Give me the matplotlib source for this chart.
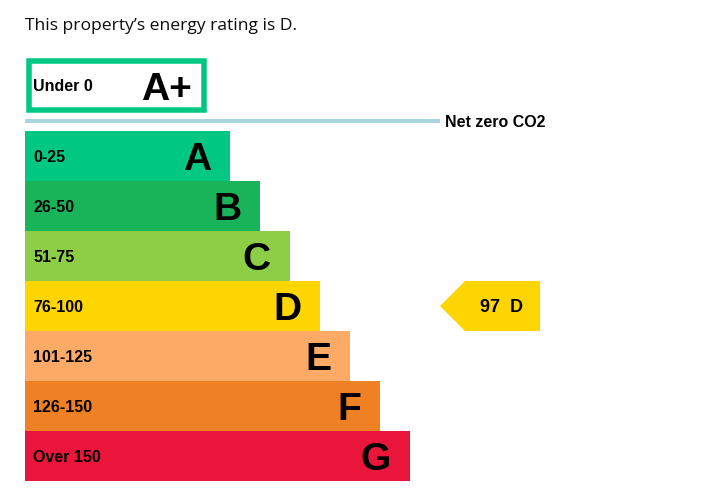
import matplotlib
matplotlib.use("Agg")
import matplotlib.pyplot as plt
from matplotlib.patches import Rectangle, Polygon

# ---- data ----
title = "This property\u2019s energy rating is D."
bands = ["A", "B", "C", "D", "E", "F", "G"]
ranges = ["0-25", "26-50", "51-75", "76-100", "101-125", "126-150", "Over 150"]
colors = ["#00c781", "#19b459", "#8dce46", "#ffd500", "#fcaa65", "#ef8023", "#e9153b"]
top_band = "A+"
top_range = "Under 0"
net_zero_label = "Net zero CO2"
current_score = 97
current_band = "D"

# ---- layout (pixels) ----
W, H = 712, 500
DPI = 100
def pt(px):
    return px * 72.0 / DPI

fig = plt.figure(figsize=(W / DPI, H / DPI), dpi=DPI)
ax = fig.add_axes([0, 0, 1, 1])
ax.set_xlim(0, W)
ax.set_ylim(H, 0)
ax.axis("off")

FONT = ["Liberation Sans", "DejaVu Sans"]

# title
ax.text(25, 30, title, fontsize=pt(17.5), color="#0b0c0c",
        family=["Open Sans", "DejaVu Sans"], ha="left", va="baseline")

# A+ box
bw = 5.5
ax.add_patch(Rectangle((26 + bw / 2, 58 + bw / 2), 181 - bw, 55 - bw,
                       facecolor="white", edgecolor="#00c781",
                       linewidth=pt(bw)))
ax.text(33, 85.5 + 5.7, top_range, fontsize=pt(16), fontweight="bold",
        family=FONT, ha="left", va="baseline", color="black")
ax.text(192, 85.5 + 14, top_band, fontsize=pt(39), fontweight="bold",
        family=FONT, ha="right", va="baseline", color="black")

# net zero line
ax.plot([25, 440], [121, 121], color="#a8d5df", linewidth=pt(4),
        solid_capstyle="butt")
ax.text(445, 121 + 5.7, net_zero_label, fontsize=pt(16), fontweight="bold",
        family=FONT, ha="left", va="baseline", color="black")

# bars
x0, y0, bh = 25, 131, 50
base_len, step = 205, 30
for i, (b, r, c) in enumerate(zip(bands, ranges, colors)):
    length = base_len + step * i
    yc = y0 + bh * i + bh / 2
    ax.barh(yc, length, height=bh, left=x0, color=c, edgecolor="none")
    ax.text(x0 + 8, yc + 5.7, r, fontsize=pt(16), fontweight="bold",
            family=FONT, ha="left", va="baseline", color="black")
    ax.text(x0 + length - 19, yc + 14, b, fontsize=pt(39), fontweight="bold",
            family=FONT, ha="right", va="baseline", color="black")

# current rating arrow
idx = bands.index(current_band)
yc = y0 + bh * idx + bh / 2
arrow_col = colors[idx]
ax.add_patch(Polygon([(440, yc), (465, yc - bh / 2), (540, yc - bh / 2),
                      (540, yc + bh / 2), (465, yc + bh / 2)],
                     closed=True, facecolor=arrow_col, edgecolor="none"))
ax.text(480, yc + 6.5, f"{current_score}  {current_band}", fontsize=pt(18),
        fontweight="bold", family=FONT, ha="left", va="baseline", color="black")

fig.savefig("out.png", dpi=DPI, facecolor="white")
